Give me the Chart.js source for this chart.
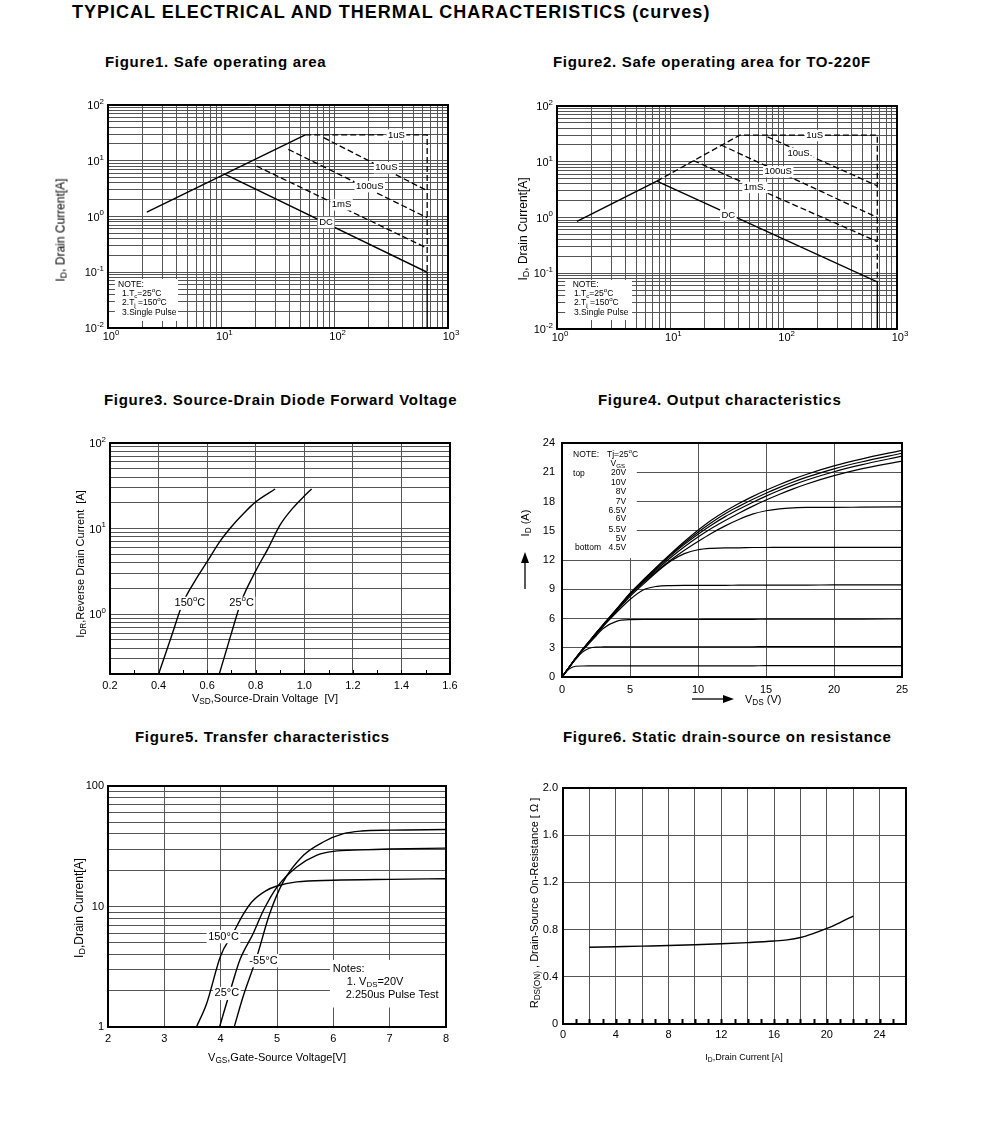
<!DOCTYPE html>
<html>
<head>
<meta charset="utf-8">
<script src="https://cdn.jsdelivr.net/npm/chart.js@4.4.1/dist/chart.umd.min.js"></script>
<style>
  body { margin: 0; width: 991px; height: 1141px; background: #fff; position: relative; overflow: hidden;
         font-family: "Liberation Sans", Arial, sans-serif; color: #000; }
  .abs { position: absolute; white-space: nowrap; }
  h1 { position: absolute; left: 72px; top: 1px; margin: 0; font-size: 18px; line-height: 22px; font-weight: bold; letter-spacing: 1px; }
  .ftitle { font-size: 15px; line-height: 18px; font-weight: bold; letter-spacing: 0.7px; }
  .ax { font-size: 11px; line-height: 13px; }
  .ax sub { font-size: 75%; vertical-align: -2px; line-height: 0; }
  .rot { transform: translate(-50%, -50%) rotate(-90deg); }
  .ctr { transform: translate(-50%, -50%); }
  .mid { transform: translateY(-50%); }
  canvas { position: absolute; }
  svg { position: absolute; left: 0; top: 0; pointer-events: none; }
</style>
</head>
<body>
<h1>TYPICAL ELECTRICAL AND THERMAL CHARACTERISTICS (curves)</h1>

<div class="abs ftitle" style="left:105px;top:53px">Figure1. Safe operating area</div>
<div class="abs ftitle" style="left:553px;top:53px">Figure2. Safe operating area for TO-220F</div>
<div class="abs ftitle" style="left:104px;top:391px">Figure3. Source-Drain Diode Forward Voltage</div>
<div class="abs ftitle" style="left:598px;top:391px">Figure4. Output characteristics</div>
<div class="abs ftitle" style="left:135px;top:728px">Figure5. Transfer characteristics</div>
<div class="abs ftitle" style="left:563px;top:728px">Figure6. Static drain-source on resistance</div>

<canvas id="soa1"></canvas>
<canvas id="soa2"></canvas>
<canvas id="diode"></canvas>
<canvas id="output"></canvas>
<canvas id="transfer"></canvas>
<canvas id="rdson"></canvas>

<div class="abs ax rot" style="left:61px;top:230px;font-size:12px;color:#000;font-weight:normal">I<sub>D</sub>, Drain Current[A]</div>
<div class="abs ax rot" style="left:523px;top:229px;font-size:12px">I<sub>D</sub>, Drain Current[A]</div>
<div class="abs ax rot" style="left:80px;top:564px">I<sub>DR</sub>,Reverse Drain Current&nbsp; [A]</div>
<div class="abs ax ctr" style="left:265px;top:698px">V<sub>SD</sub>,Source-Drain Voltage&nbsp; [V]</div>
<div class="abs ax rot" style="left:525px;top:523px">I<sub>D</sub> (A)</div>
<div class="abs ax mid" style="left:745px;top:699px">V<sub>DS</sub> (V)</div>
<div class="abs ax rot" style="left:79px;top:908px;font-size:12px">I<sub>D</sub>,Drain Current[A]</div>
<div class="abs ax ctr" style="left:277px;top:1057px">V<sub>GS</sub>,Gate-Source Voltage[V]</div>
<div class="abs ax rot" style="left:534px;top:903px">R<sub>DS(ON)</sub> , Drain-Source On-Resistance [ Ω ]</div>
<div class="abs ax ctr" style="left:744px;top:1057px;font-size:9px">I<sub>D</sub>,Drain Current [A]</div>

<svg width="991" height="1141">
  <line x1="525" y1="589" x2="525" y2="561" stroke="#000" stroke-width="1.3"/>
  <polygon points="525,552 521,563 529,563" fill="#000"/>
  <line x1="692" y1="699" x2="724" y2="699" stroke="#000" stroke-width="1.3"/>
  <polygon points="734,699 723,695 723,703" fill="#000"/>
</svg>

<script>
const FONT = '"Liberation Sans", Arial, sans-serif';
const GRID = '#555';

// Figure 1 - safe operating area
const f1RiseV = [2.2, 55];
const f1RiseI = [1.2, 29];
const f1DcV = [10.6, 655, 655];
const f1DcI = [5.8, 0.1, 0.01];
const f1Us1V = [55, 655, 655];
const f1Us1I = [29, 29, 0.1];
const f1Us10V = [80, 655];
const f1Us10I = [26, 2.9];
const f1Us100V = [39, 655];
const f1Us100I = [16, 0.95];
const f1Ms1V = [20.5, 655];
const f1Ms1I = [8, 0.27];

// Figure 2 - safe operating area, TO-220F
const f2RiseV = [1.5, 7.6];
const f2RiseI = [0.85, 4.5];
const f2DcV = [7.6, 670, 670];
const f2DcI = [4.5, 0.07, 0.01];
const f2Us1V = [7.6, 41, 670, 670];
const f2Us1I = [4.5, 30, 30, 0.07];
const f2Us10V = [72, 670];
const f2Us10I = [28, 3.7];
const f2Us100V = [28, 670];
const f2Us100I = [20, 1.0];
const f2Ms1V = [16, 670];
const f2Ms1I = [10.5, 0.37];

const soaVoltDecades = [1, 10, 100, 1000];
const soaCurrDecades = [0.01, 0.1, 1, 10, 100];

// Figure 3 - diode forward voltage
const f3HotV = [0.40, 0.45, 0.50, 0.55, 0.60, 0.65, 0.70, 0.75, 0.80, 0.88];
const f3HotI = [0.2, 0.52, 1.35, 2.45, 4.1, 6.9, 10.5, 15, 20.5, 29];
const f3RoomV = [0.65, 0.70, 0.74, 0.80, 0.85, 0.90, 0.95, 1.00, 1.03];
const f3RoomI = [0.2, 0.6, 1.4, 3.2, 5.8, 11, 17, 24, 29];
const f3CurrDecades = [1, 10, 100];

// Figure 4 - output characteristics
const f4Vds = [0, 0.5, 1, 1.5, 2, 2.5, 3, 4, 5, 6, 7, 8, 9, 10, 11, 12, 13, 14, 15, 16, 17, 18, 20, 22, 25];
const f4Id1 = [0, 0.95, 1.9, 2.8, 3.65, 4.5, 5.35, 6.95, 8.6, 10.0, 11.35, 12.65, 13.9, 15.05, 16.1, 17.0, 17.8, 18.5, 19.15, 19.75, 20.3, 20.8, 21.65, 22.35, 23.25];
const f4Id2 = [0, 0.95, 1.9, 2.8, 3.65, 4.5, 5.3, 6.9, 8.55, 9.95, 11.3, 12.55, 13.75, 14.85, 15.85, 16.75, 17.5, 18.2, 18.85, 19.45, 20.0, 20.5, 21.35, 22.05, 22.95];
const f4Id3 = [0, 0.95, 1.9, 2.8, 3.65, 4.5, 5.3, 6.9, 8.5, 9.9, 11.2, 12.45, 13.6, 14.65, 15.6, 16.45, 17.2, 17.9, 18.55, 19.15, 19.7, 20.2, 21.05, 21.75, 22.65];
const f4Id4 = [0, 0.95, 1.9, 2.8, 3.6, 4.45, 5.25, 6.85, 8.45, 9.8, 11.05, 12.25, 13.35, 14.35, 15.25, 16.05, 16.8, 17.5, 18.15, 18.75, 19.3, 19.8, 20.65, 21.35, 22.15];
const f4Id5 = [0, 0.95, 1.9, 2.8, 3.6, 4.45, 5.25, 6.8, 8.4, 9.7, 10.9, 12.0, 13.0, 13.9, 14.75, 15.5, 16.15, 16.7, 17.05, 17.25, 17.35, 17.4, 17.4, 17.42, 17.45];
const f4Id6 = [0, 0.95, 1.9, 2.75, 3.6, 4.4, 5.2, 6.75, 8.25, 9.55, 10.8, 11.9, 12.65, 13.05, 13.2, 13.25, 13.25, 13.28, 13.28, 13.3, 13.3, 13.3, 13.3, 13.3, 13.3];
const f4Id7 = [0, 0.95, 1.9, 2.75, 3.55, 4.35, 5.15, 6.6, 7.95, 8.95, 9.3, 9.38, 9.4, 9.4, 9.4, 9.4, 9.42, 9.42, 9.42, 9.43, 9.43, 9.43, 9.44, 9.44, 9.45];
const f4Id8 = [0, 0.95, 1.85, 2.7, 3.45, 4.2, 4.95, 5.7, 5.88, 5.9, 5.9, 5.9, 5.9, 5.9, 5.92, 5.92, 5.92, 5.92, 5.93, 5.93, 5.93, 5.93, 5.94, 5.94, 5.95];
const f4Id9 = [0, 0.95, 1.8, 2.55, 2.95, 3.07, 3.08, 3.1, 3.1, 3.1, 3.1, 3.1, 3.1, 3.1, 3.1, 3.1, 3.1, 3.1, 3.12, 3.12, 3.12, 3.12, 3.12, 3.12, 3.12];
const f4Id10 = [0, 0.8, 1.1, 1.13, 1.14, 1.15, 1.15, 1.15, 1.15, 1.15, 1.15, 1.15, 1.15, 1.15, 1.15, 1.15, 1.15, 1.15, 1.16, 1.16, 1.16, 1.16, 1.16, 1.17, 1.17];
const f4VgsSteps = ['20V', '10V', '8V', '7V', '6.5V', '6V', '5.5V', '5V', '4.5V'];

// Figure 5 - transfer characteristics
const f5HotV = [3.57, 3.75, 4.0, 4.22, 4.4, 4.56, 4.8, 5.0, 5.35, 6.0, 7.0, 8.0];
const f5HotI = [1, 1.56, 3.9, 6.0, 8.6, 11, 13.5, 14.8, 16.0, 16.5, 16.8, 17.0];
const f5RoomV = [3.98, 4.19, 4.34, 4.58, 4.76, 5.0, 5.35, 5.7, 6.0, 6.5, 7.0, 8.0];
const f5RoomI = [1, 2.15, 3.6, 6.0, 9.3, 14.5, 21.3, 26.6, 28.7, 29.5, 30.0, 30.5];
const f5ColdV = [4.24, 4.4, 4.64, 4.87, 5.11, 5.47, 5.82, 6.18, 6.5, 7.0, 8.0];
const f5ColdI = [1, 1.8, 3.8, 8.7, 16, 26.6, 34.3, 40.2, 42.3, 43.0, 43.5];

// Figure 6 - on resistance
const f6Id = [2, 4, 6, 8, 10, 12, 14, 16, 17, 18, 19, 20, 21, 22];
const f6Rds = [0.65, 0.655, 0.66, 0.665, 0.672, 0.68, 0.69, 0.703, 0.713, 0.733, 0.768, 0.81, 0.86, 0.915];

Chart.defaults.font.family = FONT;
Chart.defaults.color = '#000';

function pts(xs, ys) {
  return xs.map((x, i) => ({ x: x, y: ys[i] }));
}

function drawRich(ctx, s, x, y, size, align, bg) {
  const parts = s.split(/(_\{[^}]*\}|\^\{[^}]*\})/).filter(p => p).map(p =>
    p.startsWith('_{') ? { t: p.slice(2, -1), dy: size * 0.3, k: 0.72 } :
    p.startsWith('^{') ? { t: p.slice(2, -1), dy: -size * 0.4, k: 0.72 } :
    { t: p, dy: 0, k: 1 });
  let w = 0;
  parts.forEach(p => { ctx.font = (size * p.k) + 'px ' + FONT; p.w = ctx.measureText(p.t).width; w += p.w; });
  let cx = align === 'center' ? x - w / 2 : align === 'right' ? x - w : x;
  if (bg) {
    ctx.fillStyle = '#fff';
    ctx.fillRect(cx - 1.5, y - size * 0.6, w + 3, size * 1.2);
  }
  ctx.fillStyle = '#000';
  ctx.textAlign = 'left';
  ctx.textBaseline = 'middle';
  parts.forEach(p => {
    ctx.font = (size * p.k) + 'px ' + FONT;
    ctx.fillText(p.t, cx, y + p.dy);
    cx += p.w;
  });
}

// white boxes, text notes, inner tick marks, frame and 10^n labels
const decor = {
  id: 'decor',
  afterDatasetsDraw(chart, args, o) {
    const { ctx, chartArea: a, scales: { x, y } } = chart;
    ctx.save();
    (o.boxes || []).forEach(b => {
      const x0 = x.getPixelForValue(b[0]), x1 = x.getPixelForValue(b[1]);
      const y0 = y.getPixelForValue(b[2]), y1 = y.getPixelForValue(b[3]);
      ctx.fillStyle = '#fff';
      ctx.fillRect(Math.min(x0, x1), Math.min(y0, y1), Math.abs(x1 - x0), Math.abs(y1 - y0));
    });
    (o.texts || []).forEach(t => {
      drawRich(ctx, t.text, x.getPixelForValue(t.x), y.getPixelForValue(t.y), t.size || 10, t.align || 'left', t.bg);
    });
    if (o.innerX) {
      ctx.strokeStyle = '#000';
      ctx.lineWidth = o.innerX.width || 1;
      for (let v = o.innerX.from; v <= o.innerX.to + 1e-9; v += o.innerX.step) {
        const px = Math.round(x.getPixelForValue(v)) + 0.5;
        ctx.beginPath();
        ctx.moveTo(px, a.bottom);
        ctx.lineTo(px, a.bottom - o.innerX.len);
        ctx.stroke();
      }
    }
    ctx.strokeStyle = '#000';
    ctx.lineWidth = 2;
    ctx.strokeRect(a.left, a.top, a.width, a.height);
    (o.expX || []).forEach(v => {
      const e = Math.round(Math.log10(v));
      drawRich(ctx, '10^{' + e + '}', x.getPixelForValue(v) + 3, a.bottom + 9, 11, 'center');
    });
    (o.expY || []).forEach(v => {
      const e = Math.round(Math.log10(v));
      drawRich(ctx, '10^{' + (e < 0 ? '-' + (-e) : e) + '}', a.left - 4, y.getPixelForValue(v) + 1, 11, 'right');
    });
    ctx.restore();
  }
};
Chart.register(decor);

function logGrid(min, max) {
  const out = [];
  for (let e = Math.floor(Math.log10(min)); e <= Math.ceil(Math.log10(max)); e++) {
    for (let m = 1; m < 10; m++) {
      const v = +(m * Math.pow(10, e)).toPrecision(3);
      if (v >= min * 0.999 && v <= max * 1.001) out.push(v);
    }
  }
  return out;
}

function logAxis(min, max, ticks) {
  return {
    type: 'logarithmic', min: min, max: max,
    afterBuildTicks: s => { s.ticks = logGrid(min, max).map(v => ({ value: v })); },
    ticks: Object.assign({ display: false, autoSkip: false, font: { size: 11 }, padding: 5 }, ticks),
    grid: { color: GRID, lineWidth: 1, drawTicks: false },
    border: { display: false }
  };
}

function linAxis(min, max, step, fmt, pad, grid) {
  return {
    type: 'linear', min: min, max: max,
    ticks: { stepSize: step, callback: fmt, font: { size: 11 }, padding: pad, autoSkip: false, maxRotation: 0 },
    grid: Object.assign({ color: GRID, lineWidth: 1, drawTicks: false }, grid),
    border: { display: false }
  };
}

function solid(xs, ys, smooth) {
  return { data: pts(xs, ys), showLine: true, borderColor: '#000', borderWidth: 1.4, pointRadius: 0,
           cubicInterpolationMode: smooth ? 'monotone' : 'default', tension: 0 };
}
function dashed(xs, ys) {
  return Object.assign(solid(xs, ys), { borderDash: [6, 3], borderWidth: 1.3 });
}

function makeChart(id, box, plot, xAxis, yAxis, datasets, deco) {
  const cv = document.getElementById(id);
  cv.width = box.w;
  cv.height = box.h;
  cv.style.left = box.x + 'px';
  cv.style.top = box.y + 'px';
  xAxis.afterFit = s => { s.height = box.y + box.h - plot.b; };
  yAxis.afterFit = s => { s.width = plot.l - box.x; };
  return new Chart(cv, {
    type: 'scatter',
    data: { datasets: datasets },
    options: {
      responsive: false,
      animation: false,
      events: [],
      layout: { padding: { top: plot.t - box.y, right: box.x + box.w - plot.r, left: 0, bottom: 0 } },
      scales: { x: xAxis, y: yAxis },
      plugins: { legend: { display: false }, tooltip: { enabled: false }, decor: deco }
    }
  });
}

// Figure 1
makeChart('soa1', { x: 40, y: 88, w: 420, h: 275 }, { l: 108, t: 105, r: 448, b: 328 },
  logAxis(1, 1000), logAxis(0.01, 100),
  [solid(f1RiseV, f1RiseI), solid(f1DcV, f1DcI), dashed(f1Us1V, f1Us1I),
   dashed(f1Us10V, f1Us10I), dashed(f1Us100V, f1Us100I), dashed(f1Ms1V, f1Ms1I)],
  {
    expX: soaVoltDecades, expY: soaCurrDecades,
    boxes: [[1.15, 4.15, 0.0134, 0.0757]],
    texts: [
      { text: '1uS', x: 350, y: 29, size: 9.5, align: 'center', bg: true },
      { text: '10uS', x: 286, y: 7.5, size: 9.5, align: 'center', bg: true },
      { text: '100uS', x: 204, y: 3.44, size: 9.5, align: 'center', bg: true },
      { text: '1mS', x: 115, y: 1.62, size: 9.5, align: 'center', bg: true },
      { text: 'DC', x: 84, y: 0.78, size: 9.5, align: 'center', bg: true },
      { text: 'NOTE:', x: 1.225, y: 0.059, size: 8.5 },
      { text: '1.T_{c}=25^{o}C', x: 1.33, y: 0.0407, size: 8.5 },
      { text: '2.T_{j} =150^{o}C', x: 1.33, y: 0.0281, size: 8.5 },
      { text: '3.Single Pulse', x: 1.33, y: 0.0186, size: 8.5 }
    ]
  });

// Figure 2
makeChart('soa2', { x: 490, y: 88, w: 420, h: 275 }, { l: 557, t: 106, r: 897, b: 329 },
  logAxis(1, 1000), logAxis(0.01, 100),
  [solid(f2RiseV, f2RiseI), solid(f2DcV, f2DcI), dashed(f2Us1V, f2Us1I),
   dashed(f2Us10V, f2Us10I), dashed(f2Us100V, f2Us100I), dashed(f2Ms1V, f2Ms1I)],
  {
    expX: soaVoltDecades, expY: soaCurrDecades,
    boxes: [[1.18, 4.59, 0.0145, 0.0756]],
    texts: [
      { text: '1uS', x: 188, y: 29.5, size: 9.5, align: 'center', bg: true },
      { text: '10uS.', x: 139, y: 14, size: 9.5, align: 'center', bg: true },
      { text: '100uS', x: 89.5, y: 6.6, size: 9.5, align: 'center', bg: true },
      { text: '1mS.', x: 55.7, y: 3.46, size: 9.5, align: 'center', bg: true },
      { text: 'DC', x: 32.5, y: 1.11, size: 9.5, align: 'center', bg: true },
      { text: 'NOTE:', x: 1.375, y: 0.0615, size: 8.5 },
      { text: '1.T_{c}=25^{o}C', x: 1.413, y: 0.0425, size: 8.5 },
      { text: '2.T_{j} =150^{o}C', x: 1.413, y: 0.0292, size: 8.5 },
      { text: '3.Single Pulse', x: 1.413, y: 0.0194, size: 8.5 }
    ]
  });

// Figure 3
makeChart('diode', { x: 40, y: 425, w: 430, h: 290 }, { l: 110, t: 443, r: 450, b: 674 },
  linAxis(0.2, 1.6, 0.2, v => Number(v).toFixed(1), 5), logAxis(0.2, 100),
  [solid(f3HotV, f3HotI, true), solid(f3RoomV, f3RoomI, true)],
  {
    expY: f3CurrDecades,
    innerX: { from: 0.3, to: 1.5, step: 0.1, len: 4, width: 1 },
    texts: [
      { text: '150^{o}C', x: 0.529, y: 1.34, size: 11, align: 'center', bg: true },
      { text: '25^{o}C', x: 0.742, y: 1.34, size: 11, align: 'center', bg: true }
    ]
  });

// Figure 4
const f4Curves = [f4Id1, f4Id2, f4Id3, f4Id4, f4Id5, f4Id6, f4Id7, f4Id8, f4Id9, f4Id10];
const f4StepI = [20.92, 19.9, 18.97, 17.95, 17.03, 16.2, 15.08, 14.15, 13.23];
makeChart('output', { x: 490, y: 425, w: 430, h: 290 }, { l: 562, t: 443, r: 902, b: 677 },
  linAxis(0, 25, 5, v => String(v), 6), linAxis(0, 24, 3, v => String(v), 7),
  f4Curves.map(c => Object.assign(solid(f4Vds, c, true), { borderWidth: 1.2 })),
  {
    boxes: [[0.07, 5.5, 12.2, 23.9]],
    texts: [
      { text: 'NOTE:', x: 0.81, y: 22.77, size: 8.5 },
      { text: 'Tj=25^{o}C', x: 3.31, y: 22.77, size: 8.5 },
      { text: 'V_{GS}', x: 4.1, y: 21.9, size: 8.5, align: 'center' },
      { text: 'top', x: 0.81, y: 20.82, size: 8.5 },
      { text: 'bottom', x: 0.96, y: 13.23, size: 8.5 }
    ].concat(f4VgsSteps.map((s, i) => ({ text: s, x: 4.71, y: f4StepI[i], size: 8.5, align: 'right' })))
  });

// Figure 5
makeChart('transfer', { x: 40, y: 770, w: 430, h: 305 }, { l: 108, t: 786, r: 446, b: 1027 },
  linAxis(2, 8, 1, v => String(v), 5),
  logAxis(1, 100, { display: true, callback: v => ([1, 10, 100].includes(v) ? String(v) : ''), padding: 4 }),
  [solid(f5HotV, f5HotI, true), solid(f5RoomV, f5RoomI, true), solid(f5ColdV, f5ColdI, true)],
  {
    boxes: [[5.94, 8, 1.45, 3.6]],
    texts: [
      { text: '150°C', x: 4.05, y: 5.62, size: 11, align: 'center', bg: true },
      { text: '-55°C', x: 4.76, y: 3.55, size: 11, align: 'center', bg: true },
      { text: '25°C', x: 4.11, y: 1.9, size: 11, align: 'center', bg: true },
      { text: 'Notes:', x: 5.99, y: 3.03, size: 11 },
      { text: '1. V_{DS}=20V', x: 6.24, y: 2.38, size: 11 },
      { text: '2.250us Pulse Test', x: 6.22, y: 1.84, size: 11 }
    ]
  });

// Figure 6
makeChart('rdson', { x: 490, y: 770, w: 430, h: 305 }, { l: 563, t: 788, r: 906, b: 1024 },
  linAxis(0, 26, 1, v => (v % 4 === 0 ? String(v) : ''), 4,
    { color: c => (c.tick && c.tick.value % 2 === 0 ? GRID : 'rgba(0,0,0,0)') }),
  linAxis(0, 2, 0.4, v => (v === 0 ? '0' : Number(v).toFixed(1)), 5),
  [solid(f6Id, f6Rds, true)],
  { innerX: { from: 1, to: 25, step: 1, len: 5, width: 2 } });
</script>
</body>
</html>
